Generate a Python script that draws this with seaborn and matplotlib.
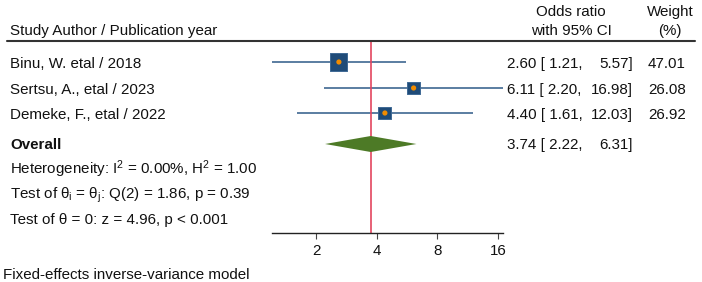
import matplotlib
matplotlib.use("Agg")
import matplotlib.pyplot as plt
import seaborn as sns
import pandas as pd
import numpy as np

sns.set_theme(style="white")
plt.rcParams['font.family'] = ['Liberation Sans', 'DejaVu Sans']
plt.rcParams['mathtext.fontset'] = 'custom'
plt.rcParams['mathtext.rm'] = 'Liberation Sans'
plt.rcParams['mathtext.it'] = 'Liberation Sans'

# ---- data ----
studies = ["Binu, W. etal / 2018", "Sertsu, A., etal / 2023", "Demeke, F., etal / 2022"]
odds = [2.60, 6.11, 4.40]
lower = [1.21, 2.20, 1.61]
upper = [5.57, 16.98, 12.03]
weights = [47.01, 26.08, 26.92]
overall_or = 3.74
overall_lo = 2.22
overall_hi = 6.31
xticks = [2, 4, 8, 16]
stats_lines = [r"Heterogeneity: I$^\mathregular{2}$ = 0.00%, H$^\mathregular{2}$ = 1.00",
               r"Test of θ$_\mathregular{i}$ = θ$_\mathregular{j}$: Q(2) = 1.86, p = 0.39",
               "Test of θ = 0: z = 4.96, p < 0.001"]
footnote = "Fixed-effects inverse-variance model"

# ---- layout (pixels) ----
W, H = 702, 282
FS = 10.9
row_y = [62, 88, 113]
overall_y = 144
stats_y = [168.5, 193.5, 218.5]
top_line_y = 41
axis_y = 233
BASE = 5.4  # baseline offset below visual centre

fig = plt.figure(figsize=(W / 100, H / 100), dpi=100)
ax_left, ax_right = 272, 503
ax = fig.add_axes([ax_left / W, 1 - axis_y / H, (ax_right - ax_left) / W, (axis_y - top_line_y) / H])
ax.set_xscale('log', base=2)
ax.set_xlim(min(lower), max(upper))
ax.set_ylim(axis_y, top_line_y)

blue = "#1f4b78"
line_blue = "#2d5a88"
df = pd.DataFrame({"study": studies, "or": odds, "lo": lower, "hi": upper, "w": weights, "y": row_y})

ax.hlines(df["y"], df["lo"], df["hi"], color=line_blue, lw=1.1, zorder=2)
sns.scatterplot(data=df, x="or", y="y", size="w", sizes=(0, 150), size_norm=(0, max(weights)),
                marker="s", color=blue, edgecolor="#3f6a95", linewidth=0.7, legend=False, ax=ax, zorder=3)
sns.scatterplot(data=df, x="or", y="y", s=14, color="#f28c00", edgecolor="none", legend=False, ax=ax, zorder=4)

# overall diamond
dh = 8
ax.fill([overall_lo, overall_or, overall_hi, overall_or],
        [overall_y, overall_y - dh, overall_y, overall_y + dh], color="#4d7a26", lw=0, zorder=3)

# red reference line at overall estimate
ax.axvline(overall_or, color="#e3455f", lw=1.2, zorder=2.5)

for s in ["top", "left", "right"]:
    ax.spines[s].set_visible(False)
ax.spines["bottom"].set_color("#222222")
ax.spines["bottom"].set_linewidth(1.0)
ax.set_xticks(xticks)
ax.set_xticklabels([str(t) for t in xticks])
ax.xaxis.set_minor_locator(matplotlib.ticker.NullLocator())
ax.tick_params(axis='x', direction='out', length=4, width=0.8, color="#444444", labelsize=FS, pad=4,
               bottom=True, labelcolor="#111111")
ax.set_yticks([])
ax.set_xlabel("")
ax.set_ylabel("")
ax.patch.set_alpha(0)

def ftext(x, y, s, ha="left", **kw):
    fig.text(x / W, 1 - (y + BASE) / H, s, ha=ha, va="baseline", fontsize=FS, color="#111111", **kw)

# headers
ftext(10, 29.5, "Study Author / Publication year")
ftext(571, 10.5, "Odds ratio", ha="center")
ftext(571, 29.5, "with 95% CI", ha="center")
ftext(670, 10.5, "Weight", ha="center")
ftext(670, 29.5, "(%)", ha="center")
fig.add_artist(plt.Line2D([7 / W, 695 / W], [1 - top_line_y / H] * 2, color="#333333", lw=1.5))

for i, st in enumerate(studies):
    y = row_y[i] + 1
    ftext(10, y, st)
    ftext(507, y, f"{odds[i]:.2f} [ {lower[i]:.2f},")
    ftext(633, y, f"{upper[i]:.2f}]", ha="right")
    ftext(686, y, f"{weights[i]:.2f}", ha="right")

ftext(10, overall_y, "Overall", fontweight="bold")
ftext(507, overall_y, f"{overall_or:.2f} [ {overall_lo:.2f},")
ftext(633, overall_y, f"{overall_hi:.2f}]", ha="right")

for s, y in zip(stats_lines, stats_y):
    ftext(10, y, s)

ftext(3, 273.5, footnote)

fig.savefig("out.png", dpi=100, facecolor="white")
